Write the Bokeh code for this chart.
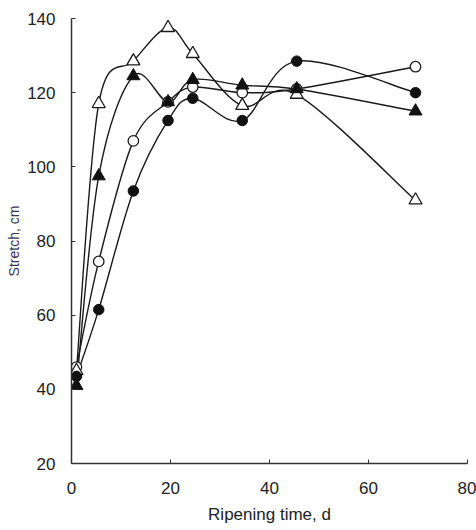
from bokeh.plotting import figure
from bokeh.models import Range1d, FixedTicker
from bokeh.embed import file_html
from bokeh.resources import INLINE

days = [1, 5.5, 12.5, 19.5, 24.5, 34.5, 45.5, 69.5]
open_tri = [45, 117, 128.5, 137.5, 130.5, 116.5, 119.5, 91]
filled_tri = [41, 97.5, 124.5, 117.5, 123.5, 122, 121, 115]
open_circ = [46, 74.5, 107, 117.5, 121.5, 120, 121, 127]
filled_circ = [43.5, 61.5, 93.5, 112.5, 118.5, 112.5, 128.5, 120]

x_ticks = [0, 20, 40, 60, 80]
y_ticks = [20, 40, 60, 80, 100, 120, 140]

FONT = "Liberation Sans"

p = figure(width=476, height=530, output_backend="svg", toolbar_location=None,
           x_range=Range1d(0, 80), y_range=Range1d(20, 140),
           min_border_left=71, min_border_right=9, min_border_top=18,
           min_border_bottom=67)
p.outline_line_color = None
p.grid.visible = False
p.background_fill_color = "white"
p.border_fill_color = "white"

for ax in (p.xaxis[0], p.yaxis[0]):
    ax.major_label_text_font = FONT
    ax.major_label_text_font_size = "17px"
    ax.major_label_text_color = "#222222"
    ax.axis_label_text_font = FONT
    ax.axis_label_text_font_style = "normal"
    ax.axis_line_color = "#333333"
    ax.axis_line_width = 1.5
    ax.major_tick_line_color = "#333333"
    ax.major_tick_in = 4
    ax.major_tick_out = 0
    ax.minor_tick_line_color = None

p.xaxis.ticker = FixedTicker(ticks=x_ticks)
p.yaxis.ticker = FixedTicker(ticks=y_ticks)
p.xaxis.major_label_standoff = 18
p.yaxis.major_label_standoff = 16
p.xaxis.axis_label = "Ripening time, d"
p.xaxis.axis_label_text_font_size = "17px"
p.xaxis.axis_label_text_color = "#222222"
p.xaxis.axis_label_standoff = 8
p.yaxis.axis_label = "Stretch, cm"
p.yaxis.axis_label_text_font_size = "14px"
p.yaxis.axis_label_text_color = "#3a3355"
p.yaxis.axis_label_standoff = 2


def smooth(xs, ys):
    # Catmull-Rom segments expressed as cubic Bezier control points
    n = len(xs)
    px = [xs[0]] + list(xs) + [xs[-1]]
    py = [ys[0]] + list(ys) + [ys[-1]]
    seg = dict(x0=[], y0=[], x1=[], y1=[], cx0=[], cy0=[], cx1=[], cy1=[])
    for i in range(1, n):
        seg["x0"].append(px[i]); seg["y0"].append(py[i])
        seg["x1"].append(px[i + 1]); seg["y1"].append(py[i + 1])
        seg["cx0"].append(px[i] + (px[i + 1] - px[i - 1]) / 6)
        seg["cy0"].append(py[i] + (py[i + 1] - py[i - 1]) / 6)
        seg["cx1"].append(px[i + 1] - (px[i + 2] - px[i]) / 6)
        seg["cy1"].append(py[i + 1] - (py[i + 2] - py[i]) / 6)
    return seg


for ys in (open_tri, filled_tri, open_circ, filled_circ):
    s = smooth(days, ys)
    p.bezier(x0=s["x0"], y0=s["y0"], x1=s["x1"], y1=s["y1"],
             cx0=s["cx0"], cy0=s["cy0"], cx1=s["cx1"], cy1=s["cy1"],
             line_color="#1a1a1a", line_width=1.4)

p.scatter(days, open_circ, marker="circle", size=10.5, fill_color="white",
          line_color="#1a1a1a", line_width=1.3)
p.scatter(days, open_tri, marker="triangle", size=13, fill_color="white",
          line_color="#1a1a1a", line_width=1.3)
p.scatter(days, filled_circ, marker="circle", size=10.5, fill_color="#111111",
          line_color="#111111", line_width=1)
p.scatter(days, filled_tri, marker="triangle", size=13, fill_color="#111111",
          line_color="#111111", line_width=1)

open("out.html", "w").write(file_html(p, INLINE))
